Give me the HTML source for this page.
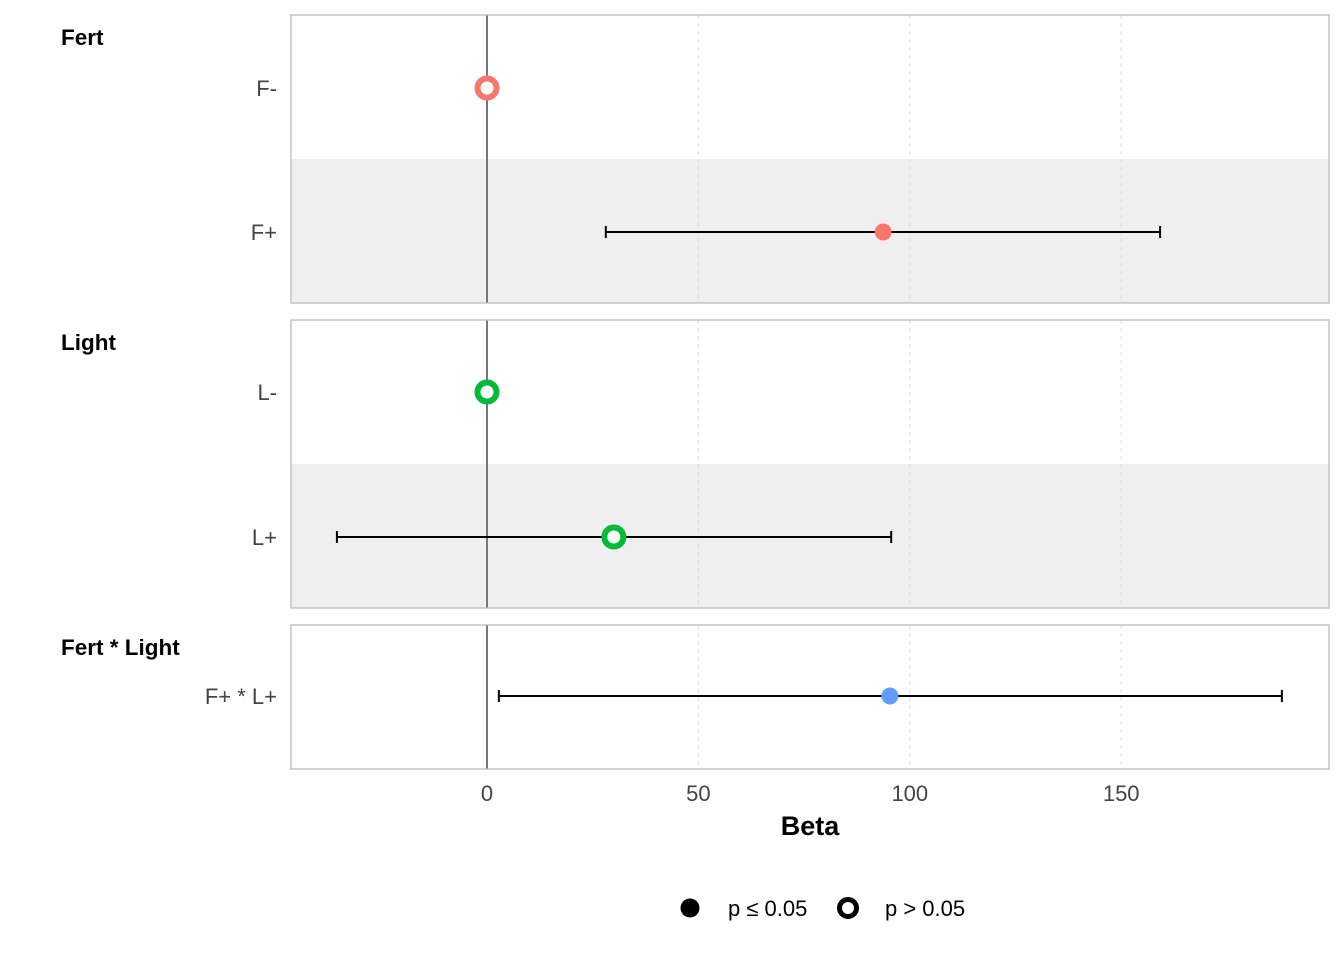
<!DOCTYPE html>
<html><head><meta charset="utf-8"><style>
body{margin:0;background:#fff;}
svg{display:block;font-family:"Liberation Sans",Arial,sans-serif;}
</style></head><body>
<svg id="c" width="1344" height="960"></svg>
<script>
const groups=["Fert","Light","Fert * Light"];
const rowLabels=["F-","F+","L-","L+","F+ * L+"];
const rowGroup=[0,0,1,1,2];
const estimates=[0,93.7,0,30.0,95.3];
const ciLow=[null,28.1,null,-35.5,2.8];
const ciHigh=[null,159.2,null,95.6,188.0];
const significant=[false,true,false,false,true];
const xTicks=[0,50,100,150];
const colors=["#F8766D","#00BA38","#619CFF"];

const svg=document.getElementById('c');
const NS="http://www.w3.org/2000/svg";
function mk(t,a,p){const e=document.createElementNS(NS,t);for(const k in a)e.setAttribute(k,a[k]);(p||svg).appendChild(e);return e;}
const X0=291,X1=1329;
const xs=v=>487+v*4.228;
const panels=[{y0:15,y1:303,rowsY:[88,232]},{y0:320,y1:608,rowsY:[392,537]},{y0:625,y1:769,rowsY:[696]}];
const rowY=[];
panels.forEach((p,g)=>{
  const pg=mk('g',{});
  
  
  const n=p.rowsY.length;
  const h=(p.y1-p.y0)/n;
  p.rowsY.forEach((y,i)=>{
    if(i%2===1){const b=mk('rect',{x:X0,y:p.y0+h*i,width:X1-X0,height:h,fill:'#efefef'},pg);
      }
  });
  xTicks.forEach(t=>{if(t!==0){const l=mk('line',{x1:xs(t),x2:xs(t),y1:p.y0,y2:p.y1,stroke:'#dddddd','stroke-dasharray':'4,4','stroke-width':1},pg);
    }});
  const z=mk('line',{x1:xs(0),x2:xs(0),y1:p.y0,y2:p.y1,stroke:'#777','stroke-width':2},pg);
  
  const r=mk('rect',{x:X0,y:p.y0,width:X1-X0,height:p.y1-p.y0,fill:'none',stroke:'#bbb','stroke-width':1.3},pg);
  
  const gt=mk('text',{x:61,y:p.y0+30,'font-size':22.5,'font-weight':'bold',fill:'#000'},pg);
  gt.textContent=groups[g];
  p.rowsY.forEach(y=>rowY.push(y));
});
rowLabels.forEach((lab,i)=>{
  const y=rowY[i];const col=colors[rowGroup[i]];
  const t=mk('text',{x:277,y:y+8,'font-size':22,fill:'#444','text-anchor':'end'});
  t.textContent=lab;
  if(ciLow[i]!==null){
    const g=mk('g',{stroke:'#000','stroke-width':2});
    
    mk('line',{x1:xs(ciLow[i]),x2:xs(ciHigh[i]),y1:y,y2:y},g);
    mk('line',{x1:xs(ciLow[i]),x2:xs(ciLow[i]),y1:y-6,y2:y+6},g);
    mk('line',{x1:xs(ciHigh[i]),x2:xs(ciHigh[i]),y1:y-6,y2:y+6},g);
  }
  const c=significant[i]?mk('circle',{cx:xs(estimates[i]),cy:y,r:8.5,fill:col}):mk('circle',{cx:xs(estimates[i]),cy:y,r:9.5,fill:'#fff',stroke:col,'stroke-width':6});
  
});
xTicks.forEach(t=>{
  const e=mk('text',{x:xs(t),y:801,'font-size':22,fill:'#444','text-anchor':'middle'});
  e.textContent=t;
});
const xt=mk('text',{x:810,y:835,'font-size':27,'font-weight':'bold','text-anchor':'middle'});
xt.textContent='Beta';
const lg=mk('g',{});
const l1=mk('circle',{cx:690,cy:908,r:9.5,fill:'#000'},lg);
const t1=mk('text',{x:728,y:916,'font-size':22,fill:'#000'},lg);t1.textContent='p ≤ 0.05';
const l2=mk('circle',{cx:848,cy:908,r:8.5,fill:'#fff',stroke:'#000','stroke-width':5},lg);
const t2=mk('text',{x:885,y:916,'font-size':22,fill:'#000'},lg);t2.textContent='p > 0.05';
</script>
</body></html>
